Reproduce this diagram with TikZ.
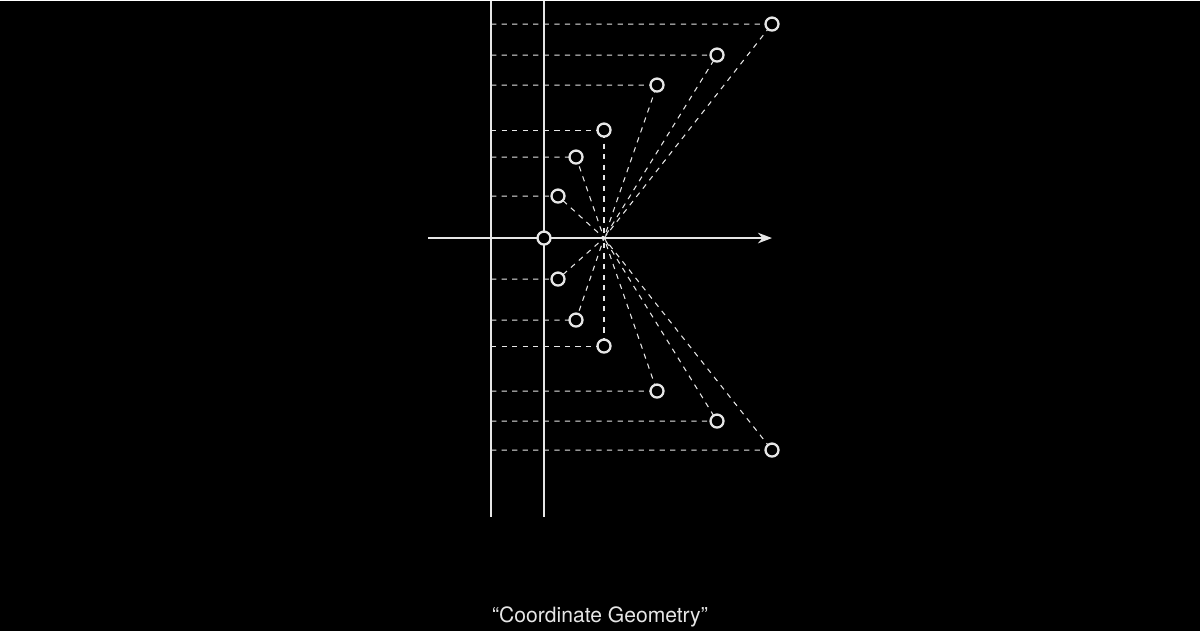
\documentclass[tikz,border=0pt]{standalone}
\usepackage{fontspec}
\setmainfont{TeX Gyre Heros}
\usetikzlibrary{arrows.meta}
\definecolor{ink}{HTML}{E6E6E6}

\begin{document}
\begin{tikzpicture}[x=0.02cm,y=-0.02cm,
    guide/.style={ink,dashed,line width=0.6pt},
    dot/.style={circle,draw=ink,fill=black,line width=1.3pt,inner sep=0pt,minimum size=0.26cm}]
\fill[black] (0,0) rectangle (1200,630);
% frame lines and axis
\draw[ink,line width=1.2pt] (491,0) -- (491,516);
\draw[ink,line width=1.2pt] (544,0) -- (544,516);
\coordinate (c) at (604,237);
\coordinate (west) at (428,237);
\coordinate (east) at (772,237);
\draw[ink,line width=1.2pt,-{Stealth[length=8pt]}] (west) -- (east);
% points
\foreach \px/\py [count=\i] in {772/23,717/54,657/84,604/129,576/156,558/195,
    558/278,576/319,604/345,657/390,717/420,772/449} {
    \coordinate (f\i) at (491,\py);
    \draw[guide] (f\i) -- (\px,\py) -- (c);
    \node[dot] (p\i) at (\px,\py) {};
}
\node[dot] (o) at (544,237) {};
\node[ink,font=\fontsize{12}{14}\selectfont] (title) at (600,616) {“Coordinate Geometry”};
\end{tikzpicture}
\end{document}
